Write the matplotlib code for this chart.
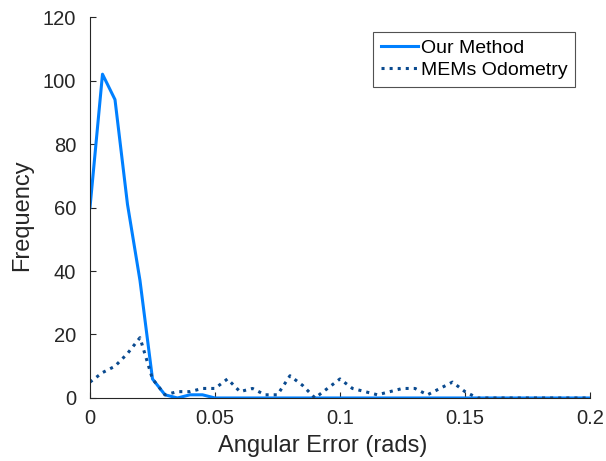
import matplotlib
matplotlib.use('Agg')
import matplotlib.pyplot as plt
import numpy as np

plt.rcParams['font.family'] = ['Liberation Sans', 'DejaVu Sans']

# bin centres every 0.005 rad
angle_bins = np.arange(0, 0.2001, 0.005)

our_method = [60, 102, 94, 61, 37, 6, 1, 0, 1, 1, 0,
              0, 0, 0, 0, 0, 0, 0, 0, 0, 0,
              0, 0, 0, 0, 0, 0, 0, 0, 0, 0,
              0, 0, 0, 0, 0, 0, 0, 0, 0, 0]

mems_odometry = [5, 8, 10, 14, 19, 6, 1, 2, 2, 3, 3,
                 6, 2, 3, 1, 1, 7, 4, 0, 3, 6,
                 3, 2, 1, 2, 3, 3, 1, 3, 5, 2,
                 0, 0, 0, 0, 0, 0, 0, 0, 0, 0]

fig = plt.figure(figsize=(6.06, 4.61), dpi=100)
ax = fig.add_axes([0.1485, 0.1367, 0.825, 0.8263])

ax.plot(angle_bins, our_method, '-', color='#0080ff', linewidth=2.2, label='Our Method')
ax.plot(angle_bins, mems_odometry, ':', color='#0a4a8f', linewidth=2.2, label='MEMs Odometry')

ax.set_xlim(0, 0.2)
ax.set_ylim(0, 120)
ax.set_xticks([0, 0.05, 0.1, 0.15, 0.2])
ax.set_xticklabels(['0', '0.05', '0.1', '0.15', '0.2'])
ax.set_yticks([0, 20, 40, 60, 80, 100, 120])

for s in ['top', 'right']:
    ax.spines[s].set_visible(False)
for s in ['left', 'bottom']:
    ax.spines[s].set_color('#262626')
    ax.spines[s].set_linewidth(0.8)
ax.tick_params(direction='in', length=4, width=0.8, colors='#262626',
               labelsize=14.5, labelcolor='#262626')
ax.tick_params(axis='x', pad=8)
ax.tick_params(axis='y', pad=10)

ax.set_xlabel('Angular Error (rads)', fontsize=17, color='#262626')
ax.set_ylabel('Frequency', fontsize=17, color='#262626')
ax.xaxis.set_label_coords(0.466, -0.098)
ax.yaxis.set_label_coords(-0.114, 0.479)

leg = ax.legend(loc='upper right', bbox_to_anchor=(0.97, 0.961), fontsize=14,
                frameon=True, fancybox=False, handlelength=1.9, handletextpad=0.15,
                borderpad=0.4, labelspacing=0.2, borderaxespad=0)
leg.get_frame().set_edgecolor('#262626')
leg.get_frame().set_linewidth(0.8)

fig.savefig('out.png', dpi=100)
